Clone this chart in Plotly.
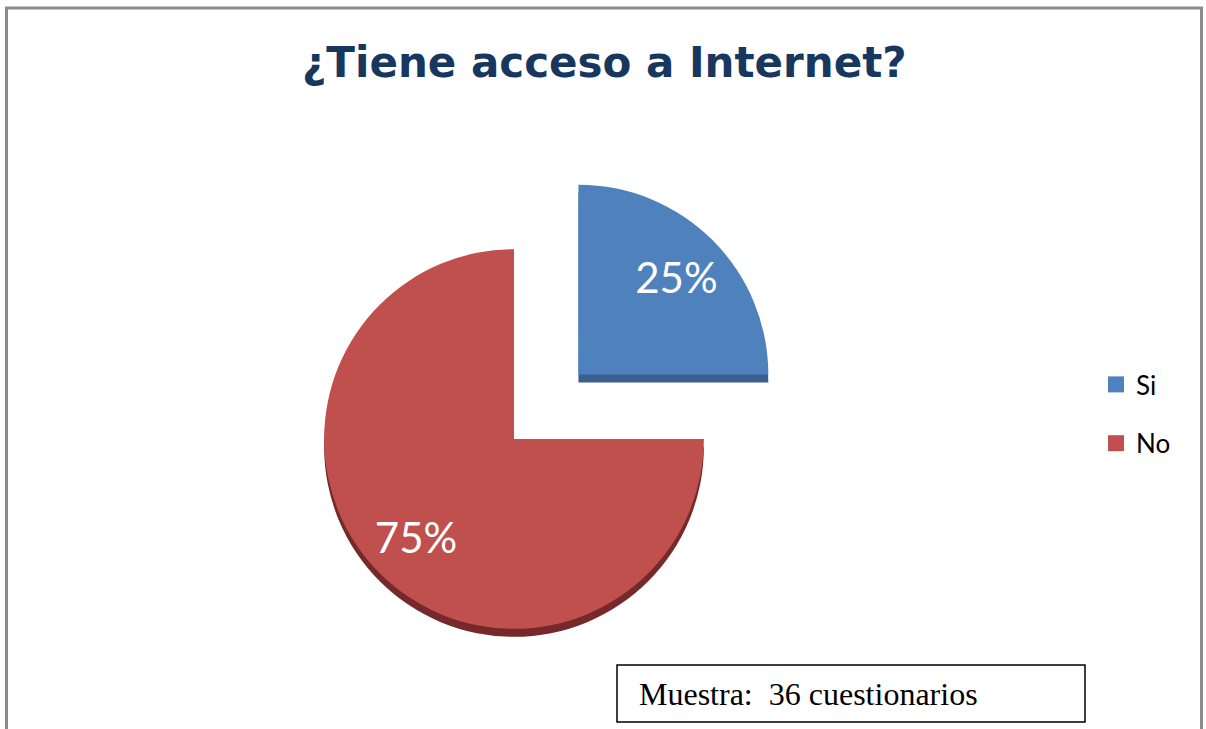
import plotly.graph_objects as go

labels = ["Si", "No"]
values = [25, 75]
colors = ["#4F81BD", "#C0504D"]
side_colors = ["#3A5F8D", "#76292A"]
pulls = [0.48, 0]
title_text = "¿Tiene acceso a Internet?"
note_text = "Muestra:\u00a0\u00a036 cuestionarios"

W, H = 1206, 729

# pie box (pixels): centre, half-size = r*(1+pull)
cx, cy, half = 514, 439, 281.0
depth = 8
dom_x = [(cx - half) / W, (cx + half) / W]
dom_y = [1 - (cy + half) / H, 1 - (cy - half) / H]
dom_y_side = [max(0.0, 1 - (cy + depth + half) / H), 1 - (cy + depth - half) / H]

common = dict(labels=labels, values=values, sort=False, direction="clockwise",
              rotation=0, pull=pulls, showlegend=False)

fig = go.Figure()
# side (3D depth) face
fig.add_trace(go.Pie(
    **common, marker=dict(colors=side_colors, line=dict(width=0)),
    textinfo="none", hoverinfo="skip", domain=dict(x=dom_x, y=dom_y_side),
))
# top face
fig.add_trace(go.Pie(
    **common, marker=dict(colors=colors, line=dict(width=0)),
    textinfo="none", hoverinfo="label+percent", domain=dict(x=dom_x, y=dom_y),
))
# labels (transparent ring so text sits further out)
fig.add_trace(go.Pie(
    **common, hole=0.46,
    marker=dict(colors=["rgba(0,0,0,0)"] * 2, line=dict(width=0)),
    texttemplate="%{percent:.0%}", textposition="inside",
    insidetextorientation="horizontal",
    insidetextfont=dict(family="Lato", size=42, color="white"),
    hoverinfo="skip", domain=dict(x=dom_x, y=dom_y),
))
# legend entries
for lab, col in zip(labels, colors):
    fig.add_trace(go.Scatter(
        x=[None], y=[None], mode="markers", name=lab, legendgroup=lab,
        marker=dict(symbol="square", size=16, color=col),
    ))

fig.update_layout(
    width=W, height=H, margin=dict(l=0, r=0, t=0, b=0),
    paper_bgcolor="white", plot_bgcolor="white",
    xaxis=dict(visible=False), yaxis=dict(visible=False),
    legend=dict(x=1096 / W, y=1 - 414 / H, xanchor="left", yanchor="middle",
                font=dict(family="Lato", size=26, color="#000000"),
                tracegroupgap=22, itemwidth=30, bgcolor="rgba(0,0,0,0)"),
    annotations=[
        dict(text="<b>" + title_text + "</b>", x=604 / W, y=1 - 63 / H, xref="paper", yref="paper",
             xanchor="center", yanchor="middle", showarrow=False,
             font=dict(family="DejaVu Sans", size=42, color="#17375E")),
        dict(text=note_text, x=637 / W, y=1 - 694 / H, xref="paper", yref="paper",
             xanchor="left", yanchor="middle", showarrow=False,
             font=dict(family="Liberation Serif", size=32, color="black")),
    ],
    shapes=[
        dict(type="rect", xref="paper", yref="paper", x0=6.5 / W, x1=1201.5 / W,
             y0=-0.05, y1=1 - 8 / H, line=dict(color="#8C8C8C", width=3)),
        dict(type="rect", xref="paper", yref="paper", x0=617 / W, x1=1085 / W,
             y0=1 - 722 / H, y1=1 - 665 / H, line=dict(color="black", width=1.5)),
    ],
)

fig.write_html("out.html", config={"displayModeBar": False},
               post_script="document.body.style.margin='0';")
